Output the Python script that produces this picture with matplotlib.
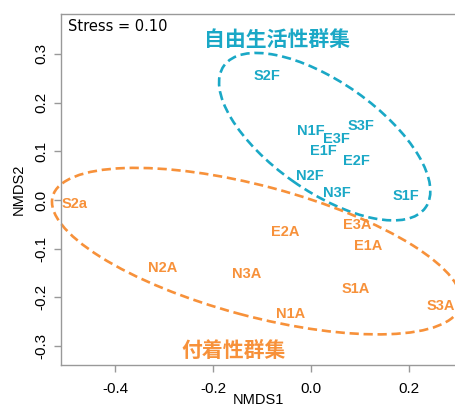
import matplotlib
matplotlib.use('Agg')
import matplotlib.pyplot as plt
from matplotlib.patches import Ellipse

plt.rcParams['font.family'] = ['Liberation Sans', 'DejaVu Sans']

BLUE = '#1AA8C6'
ORANGE = '#F7913A'

# free-living group (NMDS scores)
free_labels = ['S2F', 'N1F', 'S3F', 'E3F', 'E1F', 'E2F', 'N2F', 'N3F', 'S1F']
free_x = [-0.090, 0.000, 0.103, 0.052, 0.025, 0.093, -0.002, 0.053, 0.194]
free_y = [0.255, 0.142, 0.152, 0.125, 0.101, 0.081, 0.050, 0.014, 0.008]

# attached group
att_labels = ['S2a', 'E2A', 'E3A', 'E1A', 'N2A', 'N3A', 'S1A', 'N1A', 'S3A']
att_x = [-0.482, -0.052, 0.095, 0.117, -0.303, -0.131, 0.091, -0.041, 0.265]
att_y = [-0.008, -0.066, -0.051, -0.094, -0.140, -0.152, -0.183, -0.235, -0.217]

# group ellipses: centre x, centre y, width, height, angle
free_ell = (0.028, 0.130, 0.504, 0.224, -35.3)
att_ell = (-0.111, -0.105, 0.862, 0.267, -15.1)

fig = plt.figure(figsize=(4.55, 4.08), dpi=100)
ax = fig.add_axes([0.134, 0.1054, 0.866, 0.8603])

for lab, x, y in zip(free_labels, free_x, free_y):
    ax.text(x, y, lab, color=BLUE, fontsize=10.5, fontweight='bold',
            ha='center', va='center')
for lab, x, y in zip(att_labels, att_x, att_y):
    ax.text(x, y, lab, color=ORANGE, fontsize=10.5, fontweight='bold',
            ha='center', va='center')

for (cx, cy, w, h, ang), col in [(free_ell, BLUE), (att_ell, ORANGE)]:
    e = Ellipse((cx, cy), w, h, angle=ang, fill=False, edgecolor=col,
                linewidth=1.9, linestyle=(0, (3.5, 1.8)), clip_on=False)
    ax.add_patch(e)

ax.text(-0.069, 0.329, '自由生活性群集', color=BLUE, fontsize=15,
        fontweight='bold', family=['Noto Sans CJK JP', 'DejaVu Sans'],
        ha='center', va='center')
ax.text(-0.158, -0.308, '付着性群集', color=ORANGE, fontsize=15,
        fontweight='bold', family=['Noto Sans CJK JP', 'DejaVu Sans'],
        ha='center', va='center')

ax.text(0.018, 0.964, 'Stress = 0.10', transform=ax.transAxes,
        fontsize=10.5, family='DejaVu Sans', ha='left', va='center')

ax.set_xlim(-0.5102, 0.2939)
ax.set_ylim(-0.3388, 0.3819)
ax.set_xticks([-0.4, -0.2, 0.0, 0.2])
ax.set_xticklabels(['-0.4', '-0.2', '0.0', '0.2'])
ax.set_yticks([-0.3, -0.2, -0.1, 0.0, 0.1, 0.2, 0.3])
ax.set_yticklabels(['-0.3', '-0.2', '-0.1', '0.0', '0.1', '0.2', '0.3'],
                   rotation=90, va='center')

for s in ['left', 'top', 'bottom']:
    ax.spines[s].set_color('#999999')
    ax.spines[s].set_linewidth(1.0)
ax.spines['right'].set_visible(False)
ax.tick_params(axis='both', color='#999999', length=5, width=1.0,
               labelsize=11)
ax.tick_params(axis='x', pad=7)
ax.tick_params(axis='y', pad=4)

ax.set_xlabel('NMDS1', fontsize=10.5, labelpad=-2)
ax.set_ylabel('NMDS2', fontsize=10.5, labelpad=6)

fig.savefig('out.png', dpi=100)
